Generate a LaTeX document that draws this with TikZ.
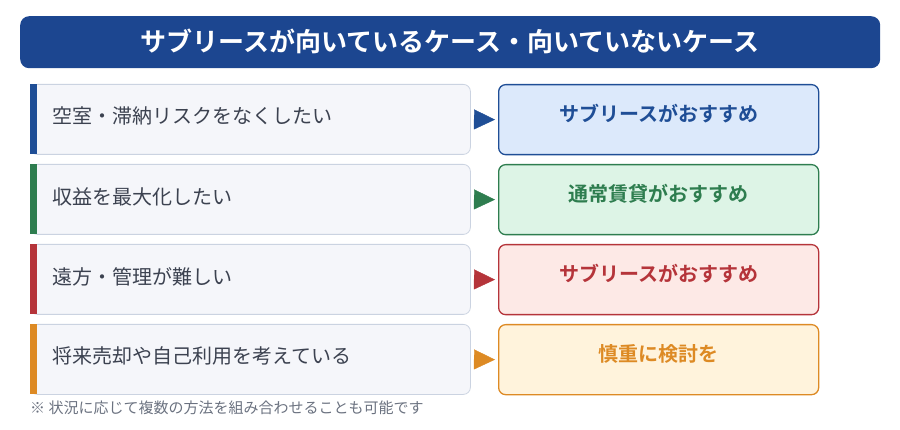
\documentclass[tikz,border=0pt]{standalone}
\usepackage{fontspec}
\setmainfont{Noto Sans CJK JP}[BoldFont={Noto Sans CJK JP Bold}]
\usetikzlibrary{arrows.meta,calc}
\definecolor{titleblue}{HTML}{1C4690}
\definecolor{cblue}{HTML}{1F4E96}
\definecolor{cgreen}{HTML}{2E7D4F}
\definecolor{cred}{HTML}{B5343A}
\definecolor{corange}{HTML}{DD8A24}
\definecolor{fblue}{HTML}{DCE9FB}
\definecolor{fgreen}{HTML}{DDF4E6}
\definecolor{fred}{HTML}{FDE9E6}
\definecolor{forange}{HTML}{FFF3DC}
\definecolor{leftfill}{HTML}{F5F6FA}
\definecolor{leftborder}{HTML}{CBD3E1}
\definecolor{lefttext}{HTML}{3C4250}
\definecolor{notegray}{HTML}{6B7280}
\tikzset{
  leftbox/.style={draw=leftborder, fill=leftfill, line width=0.8pt, rounded corners=7pt,
    minimum width=440pt, minimum height=70pt, anchor=north west, inner sep=0pt},
  lefttxt/.style={anchor=west, text=lefttext, font=\fontsize{20pt}{24pt}\selectfont, inner sep=0pt},
  rightbox/.style={line width=1.3pt, rounded corners=7pt,
    minimum width=320pt, minimum height=70pt, anchor=north west, inner sep=0pt},
  righttxt/.style={font=\bfseries\fontsize{20pt}{24pt}\selectfont, inner sep=0pt},
  tip/.style={line width=0.4pt, shorten <=3pt, shorten >=3pt, -{Triangle[length=21pt,width=20pt]}},
}
\begin{document}
\begin{tikzpicture}[x=1pt,y=-1pt]
\useasboundingbox (0,0) rectangle (900,430);
\node[fill=titleblue, rounded corners=9pt, minimum width=860pt, minimum height=52pt, anchor=north west, inner sep=0pt] (title) at (20,16) {};
\node[text=white, font=\bfseries\fontsize{26pt}{30pt}\selectfont, inner sep=0pt] (titletxt) at (450,41) {サブリースが向いているケース・向いていないケース};

\foreach \i/\y/\ac/\fc/\lt/\rt in {
  1/84/cblue/fblue/{空室・滞納リスクをなくしたい}/{サブリースがおすすめ},
  2/164/cgreen/fgreen/{収益を最大化したい}/{通常賃貸がおすすめ},
  3/244/cred/fred/{遠方・管理が難しい}/{サブリースがおすすめ},
  4/324/corange/forange/{将来売却や自己利用を考えている}/{慎重に検討を}}{
  \node[leftbox] (l\i) at (30,\y) {};
  \fill[\ac] (30,\y) rectangle (37,\y+70);
  \node[lefttxt] (lt\i) at ($(l\i.west)+(22,-3)$) {\lt};
  \node[rightbox, draw=\ac, fill=\fc] (r\i) at (498,\y) {};
  \node[righttxt, text=\ac] (rt\i) at ($(r\i.center)+(0,-6)$) {\rt};
  \draw[tip, \ac] (l\i.east) -- (r\i.west);
}
\node[anchor=west, text=notegray, font=\fontsize{15pt}{18pt}\selectfont, inner sep=0pt] (note) at (30,408) {※ 状況に応じて複数の方法を組み合わせることも可能です};
\end{tikzpicture}
\end{document}
